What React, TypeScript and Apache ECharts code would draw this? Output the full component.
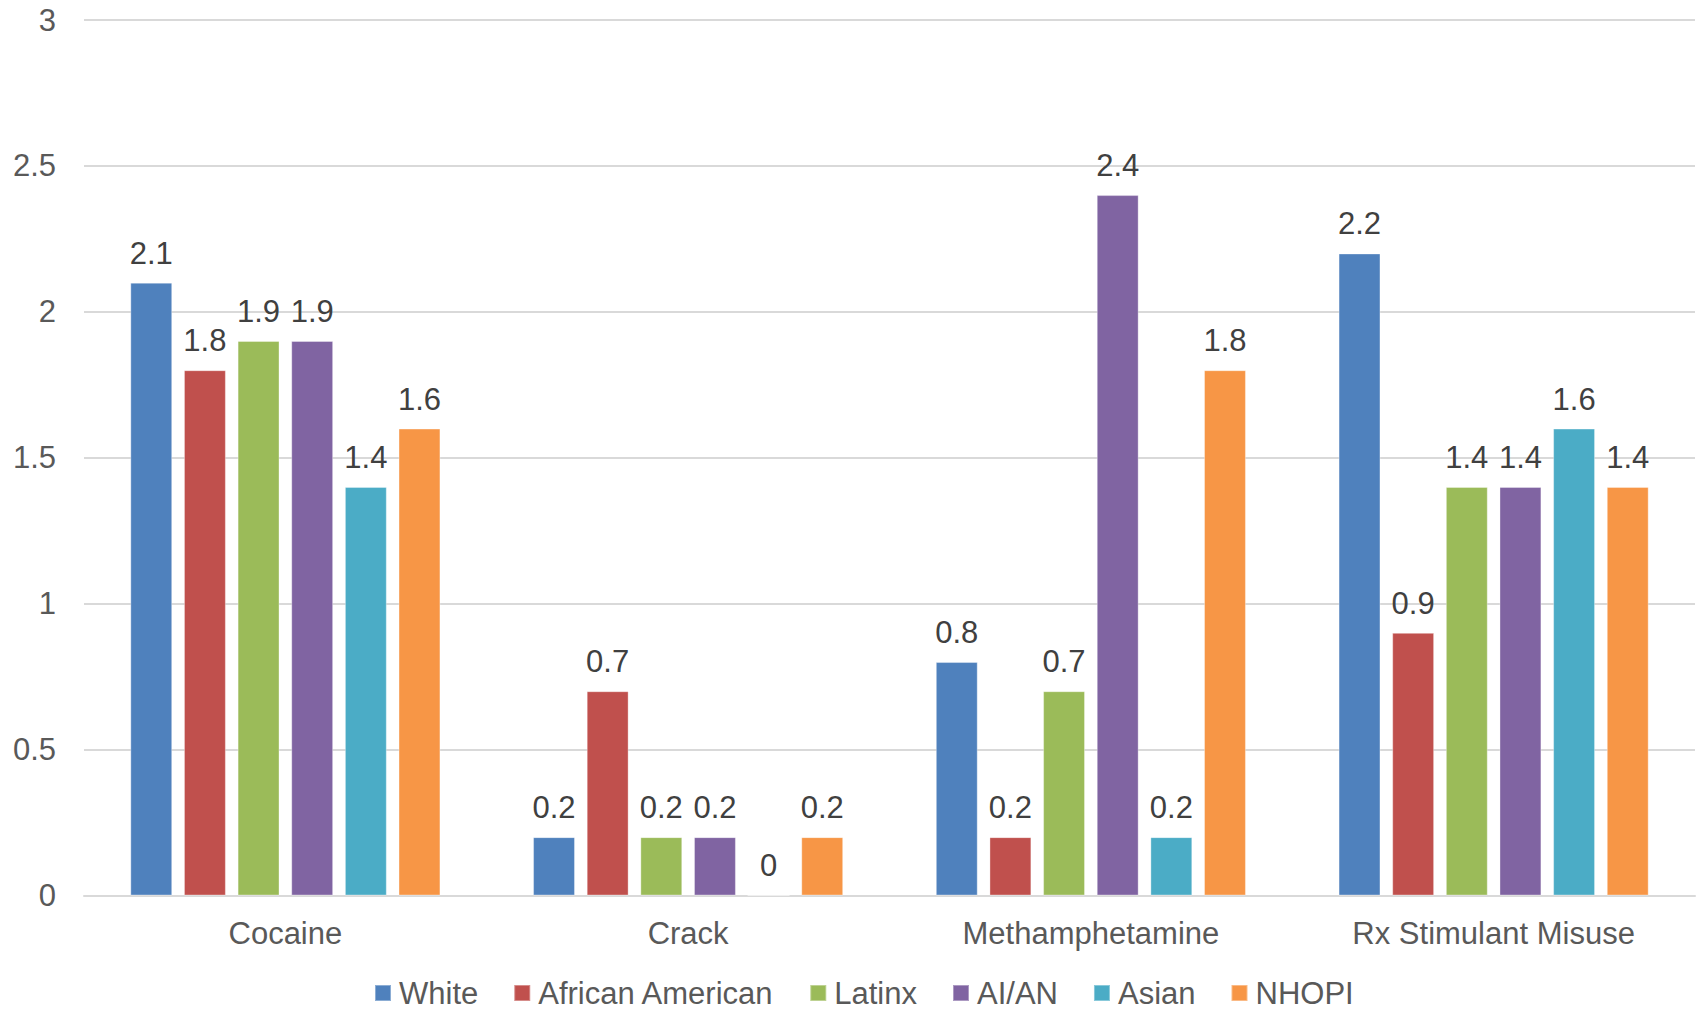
import React, { useEffect, useRef } from "react";
import * as echarts from "echarts";

const categories = ["Cocaine", "Crack", "Methamphetamine", "Rx Stimulant Misuse"];
const seriesNames = ["White", "African American", "Latinx", "AI/AN", "Asian", "NHOPI"];
const white = [2.1, 0.2, 0.8, 2.2];
const africanAmerican = [1.8, 0.7, 0.2, 0.9];
const latinx = [1.9, 0.2, 0.7, 1.4];
const aian = [1.9, 0.2, 2.4, 1.4];
const asian = [1.4, 0, 0.2, 1.6];
const nhopi = [1.6, 0.2, 1.8, 1.4];
const colors = ["#4F81BD", "#C0504D", "#9BBB59", "#8064A2", "#4BACC6", "#F79646"];
const yTicks = [0, 0.5, 1, 1.5, 2, 2.5, 3];

const FONT = "'Liberation Sans', Arial, sans-serif";

export default function App() {
  const ref = useRef<HTMLDivElement>(null);
  useEffect(() => {
    document.body.style.margin = "0";
    const chart = echarts.init(ref.current!, undefined, { renderer: "svg" });
    const values = [white, africanAmerican, latinx, aian, asian, nhopi];
    chart.setOption({
      animation: false,
      backgroundColor: "#ffffff",
      grid: { left: 84, right: 3, top: 20, bottom: 113.5, containLabel: false },
      xAxis: {
        type: "category",
        data: categories,
        axisLine: { lineStyle: { color: "#D9D9D9", width: 2 } },
        axisTick: { show: false },
        axisLabel: { color: "#595959", fontSize: 31, fontFamily: FONT, margin: 22 },
      },
      yAxis: {
        type: "value",
        min: yTicks[0],
        max: yTicks[yTicks.length - 1],
        interval: 0.5,
        axisLine: { show: false },
        axisTick: { show: false },
        splitLine: { lineStyle: { color: "#D9D9D9", width: 2 } },
        axisLabel: { color: "#595959", fontSize: 31, fontFamily: FONT, margin: 28 },
      },
      legend: {
        data: seriesNames,
        top: 972,
        left: 369,
        itemWidth: 16,
        itemHeight: 16,
        itemGap: 35,
        icon: "rect",
        textStyle: { color: "#595959", fontSize: 31, fontFamily: FONT, lineHeight: 32, padding: [0, 0, 0, 3] },
      },
      series: seriesNames.map((name, i) => ({
        name,
        type: "bar",
        data: values[i],
        barGap: "28%",
        barCategoryGap: "23%",
        itemStyle: { color: colors[i], borderColor: "rgba(255,255,255,0.35)", borderWidth: 1 },
        label: {
          show: true,
          position: "top",
          distance: 14,
          color: "#404040",
          fontSize: 31,
          fontFamily: FONT,
        },
      })),
    });
    return () => chart.dispose();
  }, []);
  return <div ref={ref} style={{ width: 1698, height: 1009 }} />;
}
